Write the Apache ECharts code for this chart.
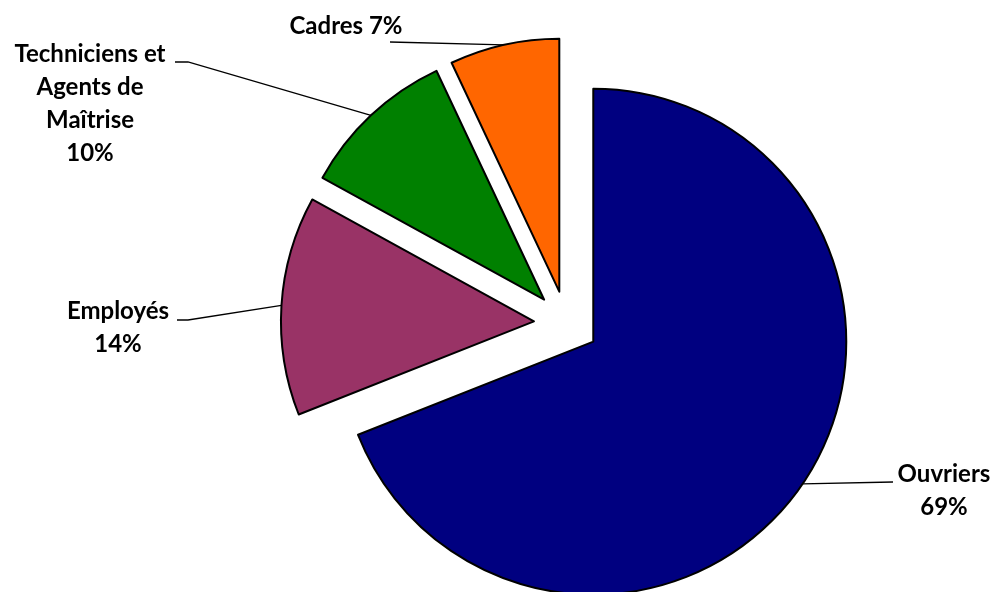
<!DOCTYPE html>
<html><head><meta charset="utf-8">
<script src="https://cdn.jsdelivr.net/npm/echarts@6/dist/echarts.min.js"></script>
<style>html,body{margin:0;padding:0;background:#fff}#chart{width:994px;height:592px}</style>
</head><body><div id="chart"></div>
<script>
// ---- data ----
const categories = ['Ouvriers', 'Employés', 'Techniciens et Agents de Maîtrise', 'Cadres'];
const shares = [69, 14, 10, 7];
const labelNames = ['Ouvriers', 'Employés', 'Techniciens et\nAgents de\nMaîtrise', 'Cadres'];
const labelSeparators = ['\n', '\n', '\n', ' '];

// ---- layout / style ----
const colors = ['#000080', '#993366', '#008000', '#FF6600'];
const PIE = { cx: 566.4, cy: 323.4, r: 253, explode: 32.5 };
const labelPlace = [
  { x: 944, y: 491, elbow: [[893, 482]] },
  { x: 118, y: 328, elbow: [[188, 320], [177, 320]] },
  { x: 90, y: 104, elbow: [[188, 62], [175, 62]] },
  { x: 346, y: 26, elbow: [[390, 42]] }
];

const total = shares.reduce((a, b) => a + b, 0);
const series = [];
let cum = 0;
shares.forEach((v, i) => {
  const start = cum / total;
  const mid = (cum + v / 2) / total * 2 * Math.PI;
  cum += v;
  const sx = Math.sin(mid), sy = -Math.cos(mid);
  const cx = PIE.cx + PIE.explode * sx;
  const cy = PIE.cy + PIE.explode * sy;
  const edge = [cx + PIE.r * sx, cy + PIE.r * sy];
  const place = labelPlace[i];
  series.push({
    type: 'pie',
    center: [cx, cy],
    radius: PIE.r,
    startAngle: 90 - start * 360,
    clockwise: true,
    avoidLabelOverlap: false,
    silent: true,
    animation: false,
    label: {
      show: true,
      position: 'outside',
      alignTo: 'none',
      color: '#000',
      fontFamily: 'Lato',
      fontWeight: 'bold',
      fontSize: 24,
      lineHeight: 33,
      formatter: (p) => labelNames[i] + labelSeparators[i] + p.percent + '%'
    },
    labelLine: { show: true, lineStyle: { color: '#000', width: 1.3 } },
    labelLayout: (params) => {
      if (params.dataIndex !== 0) return {};
      return {
        x: place.x, y: place.y, align: 'center', verticalAlign: 'middle',
        labelLinePoints: [edge].concat(place.elbow)
      };
    },
    data: [
      { value: v, name: categories[i],
        itemStyle: { color: colors[i], borderColor: '#000', borderWidth: 2 } },
      { value: total - v, name: '',
        itemStyle: { color: 'rgba(0,0,0,0)', borderWidth: 0 },
        label: { show: false }, labelLine: { show: false } }
    ]
  });
});

const chart = echarts.init(document.getElementById('chart'), null, { renderer: 'canvas' });
chart.setOption({ animation: false, tooltip: { show: false }, series });
</script>
</body></html>
